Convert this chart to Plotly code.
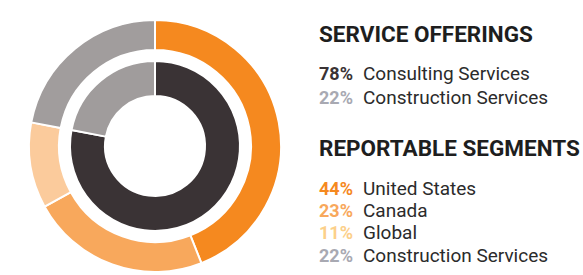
import plotly.graph_objects as go

# Data
outer_labels = ["United States", "Canada", "Global", "Construction Services"]
outer_values = [44, 23, 11, 22]
inner_labels = ["Consulting Services", "Construction Services"]
inner_values = [78, 22]

outer_colors = ["#F5891F", "#F8A85C", "#FBCB9C", "#A19D9D"]
inner_colors = ["#3A3335", "#A09C9C"]

W, H = 583, 275
cx, cy = 155, 146
R_out, R_out_in = 126, 96
R_in, R_in_hole = 85, 50

def dom(r):
    return dict(x=[(cx - r) / W, (cx + r) / W],
                y=[(H - cy - r) / H, (H - cy + r) / H])

fig = go.Figure()
fig.add_trace(go.Pie(
    labels=outer_labels, values=outer_values, sort=False, direction="clockwise",
    rotation=0, hole=R_out_in / R_out, domain=dom(R_out), textinfo="none",
    marker=dict(colors=outer_colors, line=dict(color="white", width=2)),
    showlegend=False, hoverinfo="label+percent", name="Segments"))
fig.add_trace(go.Pie(
    labels=inner_labels, values=inner_values, sort=False, direction="clockwise",
    rotation=0, hole=R_in_hole / R_in, domain=dom(R_in), textinfo="none",
    marker=dict(colors=inner_colors, line=dict(color="white", width=2)),
    showlegend=False, hoverinfo="label+percent", name="Offerings"))

anns = []
def head(text, y):
    anns.append(dict(text=f"<b>{text}</b>", x=317, y=y, xref="x", yref="y",
                     xanchor="left", yanchor="middle", showarrow=False,
                     font=dict(family="Roboto", size=22.5, color="#1E1E1E")))

def item(pct, color, label, y):
    anns.append(dict(text=f"<b>{pct}%</b>", x=317, y=y, xref="x", yref="y",
                     xanchor="left", yanchor="middle", showarrow=False,
                     font=dict(family="Roboto", size=18, color=color)))
    anns.append(dict(text=label, x=361, y=y, xref="x", yref="y",
                     xanchor="left", yanchor="middle", showarrow=False,
                     font=dict(family="Roboto", size=19, color="#2B2B2B")))

head("SERVICE OFFERINGS", 34)
item(inner_values[0], "#3A3335", inner_labels[0], 73)
item(inner_values[1], "#A8A9B2", inner_labels[1], 97)
head("REPORTABLE SEGMENTS", 148)
item(outer_values[0], outer_colors[0], outer_labels[0], 188)
item(outer_values[1], outer_colors[1], outer_labels[1], 210)
item(outer_values[2], "#FCD08A", outer_labels[2], 232)
item(outer_values[3], "#A8A9B2", outer_labels[3], 255)

fig.update_layout(
    width=W, height=H, margin=dict(l=0, r=0, t=0, b=0),
    paper_bgcolor="white", plot_bgcolor="white",
    xaxis=dict(range=[0, W], visible=False, fixedrange=True),
    yaxis=dict(range=[H, 0], visible=False, fixedrange=True),
    annotations=anns,
)
fig.write_html("out.html", config={"displayModeBar": False},
               post_script="document.body.style.margin='0';")
